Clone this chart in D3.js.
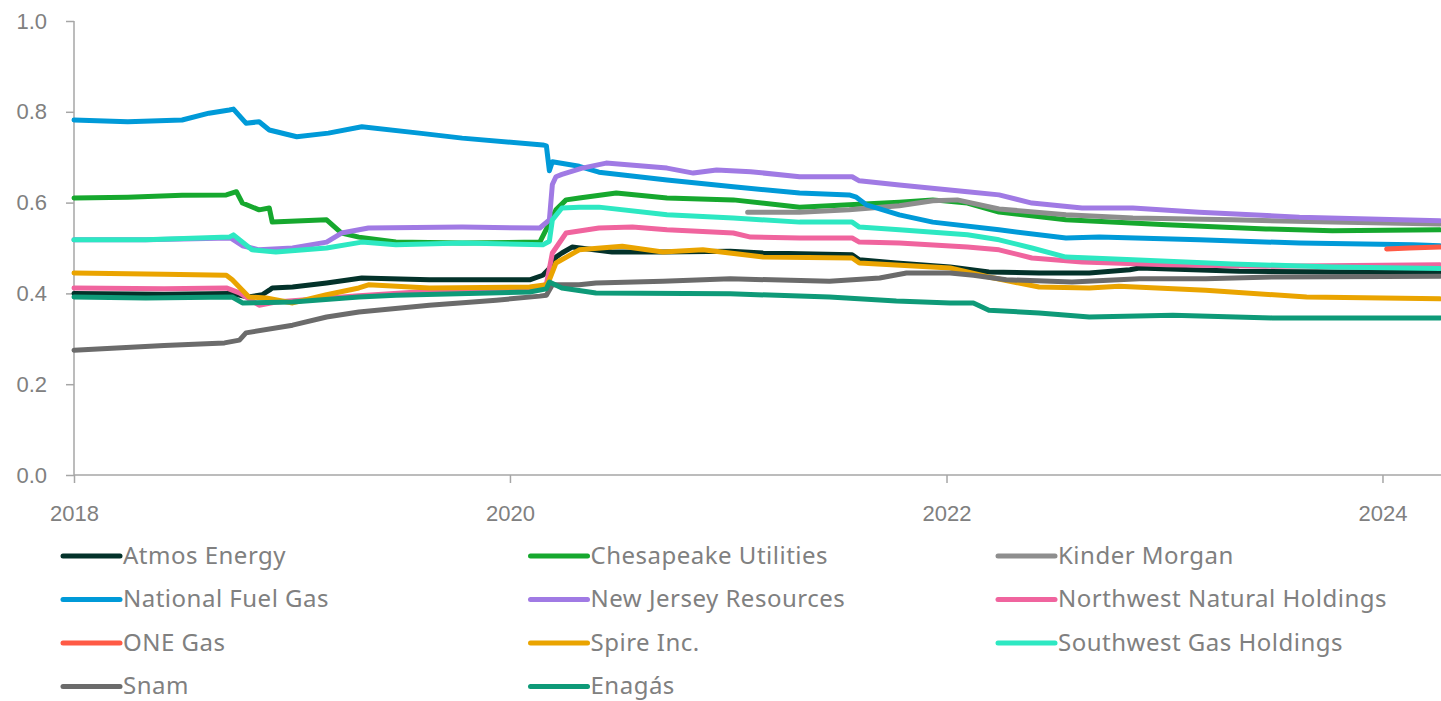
<!DOCTYPE html>
<html>
<head>
<meta charset="utf-8">
<script src="https://cdn.jsdelivr.net/npm/d3@7"></script>
<style>
  body { margin: 0; background: #fff; }
  svg { display: block; font-family: "Noto Sans", sans-serif; }
  .axis text { fill: #808080; font-size: 22px; }
  .axis path, .axis line { stroke: #a6a6a6; stroke-width: 1.5; }
</style>
</head>
<body>
<div id="chart"></div>
<script>
/* series values: [date, value] */
const atmosEnergy = [["2018-01-01",0.400],["2018-06-01",0.398],["2018-09-20",0.400],["2018-10-20",0.392],["2018-11-12",0.397],["2018-11-24",0.407],["2018-11-29",0.412],["2019-01-02",0.414],["2019-02-28",0.423],["2019-04-28",0.434],["2019-08-19",0.430],["2020-02-03",0.430],["2020-02-25",0.440],["2020-03-07",0.455],["2020-03-18",0.480],["2020-03-28",0.489],["2020-04-14",0.502],["2020-06-20",0.491],["2020-09-13",0.491],["2021-01-04",0.493],["2021-02-28",0.489],["2021-07-27",0.485],["2021-08-08",0.474],["2021-10-09",0.467],["2022-01-07",0.458],["2022-03-13",0.447],["2022-06-05",0.445],["2022-08-28",0.445],["2022-11-04",0.452],["2022-11-20",0.456],["2023-05-06",0.449],["2023-10-21",0.447],["2024-04-06",0.447]]
const chesapeakeUtilities = [["2018-01-01",0.610],["2018-04-01",0.612],["2018-07-01",0.616],["2018-09-13",0.617],["2018-09-30",0.624],["2018-10-10",0.599],["2018-11-07",0.584],["2018-11-24",0.588],["2018-11-29",0.557],["2019-02-28",0.562],["2019-03-25",0.533],["2019-04-23",0.524],["2019-06-24",0.513],["2019-10-13",0.511],["2020-02-20",0.513],["2020-03-07",0.555],["2020-03-18",0.584],["2020-04-04",0.606],["2020-04-26",0.610],["2020-06-27",0.621],["2020-09-20",0.610],["2021-01-09",0.606],["2021-04-30",0.590],["2021-07-22",0.595],["2021-10-14",0.601],["2021-12-09",0.606],["2022-02-05",0.599],["2022-03-30",0.579],["2022-07-20",0.562],["2023-01-05",0.551],["2023-06-20",0.542],["2023-10-09",0.538],["2024-04-06",0.540]]
const kinderMorgan = [["2021-02-02",0.579],["2021-04-30",0.579],["2021-07-22",0.584],["2021-10-14",0.593],["2021-12-09",0.604],["2022-01-19",0.606],["2022-03-30",0.586],["2022-07-20",0.573],["2022-11-09",0.566],["2023-04-24",0.562],["2023-10-09",0.557],["2024-04-06",0.553]]
const nationalFuelGas = [["2018-01-01",0.782],["2018-04-01",0.778],["2018-07-01",0.782],["2018-08-15",0.797],["2018-09-18",0.804],["2018-09-25",0.806],["2018-10-16",0.775],["2018-11-07",0.778],["2018-11-24",0.760],["2019-01-09",0.745],["2019-03-03",0.753],["2019-04-28",0.767],["2019-08-02",0.753],["2019-10-13",0.742],["2020-02-25",0.727],["2020-03-02",0.725],["2020-03-07",0.670],["2020-03-12",0.690],["2020-04-26",0.680],["2020-05-29",0.667],["2020-09-20",0.650],["2021-01-09",0.635],["2021-04-30",0.621],["2021-07-22",0.617],["2021-08-03",0.612],["2021-08-20",0.595],["2021-10-14",0.573],["2021-12-09",0.557],["2022-03-30",0.540],["2022-07-20",0.522],["2022-09-14",0.524],["2023-02-28",0.518],["2023-08-15",0.511],["2024-02-21",0.507],["2024-04-06",0.505]]
const newJerseyResources = [["2018-01-01",0.518],["2018-05-01",0.518],["2018-09-20",0.522],["2018-10-10",0.505],["2018-11-07",0.496],["2019-01-02",0.500],["2019-02-28",0.513],["2019-03-25",0.533],["2019-05-09",0.544],["2019-10-13",0.546],["2020-02-20",0.544],["2020-03-07",0.562],["2020-03-12",0.640],["2020-03-18",0.657],["2020-03-28",0.662],["2020-05-01",0.676],["2020-06-10",0.687],["2020-09-20",0.676],["2020-11-03",0.665],["2020-12-12",0.672],["2021-02-07",0.668],["2021-04-30",0.657],["2021-07-27",0.657],["2021-08-08",0.648],["2021-10-14",0.639],["2022-02-05",0.624],["2022-03-30",0.617],["2022-05-24",0.599],["2022-08-16",0.588],["2022-11-09",0.588],["2023-02-28",0.579],["2023-08-15",0.568],["2024-04-06",0.560]]
const northwestNatural = [["2018-01-01",0.412],["2018-06-01",0.410],["2018-09-13",0.412],["2018-10-05",0.401],["2018-11-07",0.374],["2018-12-05",0.381],["2019-04-23",0.395],["2019-08-19",0.405],["2020-02-03",0.408],["2020-03-02",0.420],["2020-03-12",0.489],["2020-04-04",0.533],["2020-05-29",0.544],["2020-07-24",0.546],["2020-09-20",0.540],["2021-01-09",0.533],["2021-02-07",0.524],["2021-04-30",0.522],["2021-07-27",0.522],["2021-08-08",0.513],["2021-10-14",0.511],["2022-02-05",0.502],["2022-03-30",0.496],["2022-05-24",0.478],["2022-08-16",0.469],["2023-01-05",0.463],["2023-06-20",0.460],["2024-04-06",0.463]]
const oneGas = [["2024-01-08",0.498],["2024-02-15",0.500],["2024-04-06",0.502]]
const spireInc = [["2018-01-01",0.445],["2018-06-01",0.442],["2018-09-13",0.440],["2018-09-23",0.430],["2018-10-10",0.407],["2018-10-21",0.392],["2018-11-19",0.390],["2019-01-02",0.379],["2019-02-28",0.397],["2019-04-23",0.412],["2019-05-09",0.419],["2019-08-19",0.412],["2020-02-03",0.414],["2020-03-02",0.419],["2020-03-07",0.430],["2020-03-18",0.467],["2020-04-26",0.496],["2020-07-07",0.504],["2020-09-13",0.491],["2020-11-19",0.496],["2021-02-28",0.480],["2021-07-27",0.478],["2021-08-08",0.467],["2022-01-07",0.456],["2022-03-13",0.436],["2022-06-05",0.414],["2022-08-28",0.412],["2022-10-17",0.416],["2023-03-11",0.407],["2023-08-27",0.392],["2024-04-06",0.388]]
const southwestGas = [["2018-01-01",0.518],["2018-05-01",0.518],["2018-09-18",0.524],["2018-09-25",0.529],["2018-10-26",0.496],["2018-12-05",0.491],["2019-02-28",0.500],["2019-04-28",0.513],["2019-06-24",0.507],["2019-10-13",0.511],["2020-02-25",0.507],["2020-03-07",0.515],["2020-03-12",0.562],["2020-03-28",0.588],["2020-04-26",0.590],["2020-05-29",0.590],["2020-09-20",0.573],["2021-01-09",0.566],["2021-04-30",0.557],["2021-07-27",0.557],["2021-08-08",0.546],["2021-10-14",0.540],["2022-02-05",0.529],["2022-03-30",0.518],["2022-05-24",0.500],["2022-07-20",0.480],["2022-11-09",0.474],["2023-04-24",0.465],["2023-10-09",0.458],["2024-04-06",0.455]]
const snam = [["2018-01-01",0.275],["2018-06-01",0.285],["2018-09-10",0.291],["2018-10-05",0.297],["2018-10-16",0.313],["2019-01-02",0.330],["2019-02-28",0.348],["2019-04-23",0.359],["2019-08-19",0.374],["2019-12-09",0.385],["2020-02-20",0.394],["2020-03-02",0.396],["2020-03-12",0.419],["2020-04-26",0.419],["2020-05-24",0.423],["2020-09-13",0.427],["2021-01-04",0.432],["2021-06-19",0.427],["2021-09-11",0.434],["2021-10-26",0.445],["2022-01-07",0.445],["2022-02-15",0.440],["2022-04-11",0.430],["2022-07-30",0.425],["2022-11-20",0.432],["2023-03-11",0.432],["2023-06-30",0.436],["2024-04-06",0.438]]
const enagas = [["2018-01-01",0.392],["2018-05-01",0.390],["2018-09-23",0.392],["2018-10-10",0.379],["2019-01-02",0.381],["2019-04-23",0.392],["2019-06-24",0.396],["2020-02-03",0.403],["2020-03-02",0.410],["2020-03-07",0.425],["2020-03-28",0.412],["2020-05-24",0.401],["2021-01-04",0.399],["2021-06-19",0.392],["2021-10-09",0.383],["2022-01-07",0.379],["2022-02-15",0.379],["2022-03-13",0.363],["2022-06-05",0.357],["2022-08-28",0.348],["2023-01-15",0.352],["2023-06-30",0.346],["2024-04-06",0.346]]

const seriesNames = ["Atmos Energy", "Chesapeake Utilities", "Kinder Morgan", "National Fuel Gas", "New Jersey Resources", "Northwest Natural Holdings", "ONE Gas", "Spire Inc.", "Southwest Gas Holdings", "Snam", "Enagás"]
const seriesValues = [atmosEnergy, chesapeakeUtilities, kinderMorgan, nationalFuelGas, newJerseyResources, northwestNatural, oneGas, spireInc, southwestGas, snam, enagas]
const colors = ["#03322a", "#16a82e", "#8e8e8e", "#009ad8", "#a07ae4", "#f0649e", "#ff5a45", "#eaa400", "#2de8c2", "#6b6b6b", "#0e9a78"]
const yTicks = [0, 0.2, 0.4, 0.6, 0.8, 1.0]
const xTicks = ["2018-01-01", "2020-01-01", "2022-01-01", "2024-01-01"]
const xDomain = ["2018-01-01", "2024-04-08"]

const width = 1441, height = 701
const margin = {top: 21, right: 0, bottom: 226, left: 74}
const parse = d3.utcParse("%Y-%m-%d")

const svg = d3.select("#chart").append("svg")
    .attr("width", width)
    .attr("height", height)

const x = d3.scaleUtc()
    .domain(xDomain.map(parse))
    .range([margin.left, width - margin.right])

const y = d3.scaleLinear()
    .domain([0, 1])
    .range([height - margin.bottom, margin.top])

// axes (ticks and labels from d3, plain domain lines drawn below)
svg.append("g")
    .attr("class", "axis")
    .attr("transform", "translate(" + margin.left + ",0)")
    .call(d3.axisLeft(y).tickValues(yTicks).tickFormat(d3.format(".1f")).tickSize(8).tickPadding(19))

svg.append("g")
    .attr("class", "axis")
    .attr("transform", "translate(0," + (height - margin.bottom) + ")")
    .call(d3.axisBottom(x).tickValues(xTicks.map(parse)).tickFormat(d3.utcFormat("%Y")).tickSize(8).tickPadding(22))

svg.selectAll(".axis .domain").remove()
svg.append("line")
    .attr("x1", margin.left).attr("x2", margin.left)
    .attr("y1", y(1)).attr("y2", y(0))
    .attr("stroke", "#a6a6a6").attr("stroke-width", 1.5)
svg.append("line")
    .attr("x1", margin.left).attr("x2", width)
    .attr("y1", y(0)).attr("y2", y(0))
    .attr("stroke", "#a6a6a6").attr("stroke-width", 1.5)

// lines
const line = d3.line()
    .x(function (d) { return x(parse(d[0])) })
    .y(function (d) { return y(d[1]) })

svg.append("g")
    .selectAll("path")
    .data(seriesValues)
    .enter().append("path")
    .attr("d", line)
    .attr("fill", "none")
    .attr("stroke", function (d, i) { return colors[i] })
    .attr("stroke-width", 5)
    .attr("stroke-linejoin", "round")
    .attr("stroke-linecap", "round")

// legend, three columns
const legend = svg.append("g")
    .selectAll(".legends")
    .data(seriesNames)
    .enter().append("g")
    .attr("class", "legends")
    .attr("transform", function (d, i) {
        const xOff = 63 + (i % 3) * 467.5
        const yOff = 556 + Math.floor(i / 3) * 43.5
        return "translate(" + xOff + "," + yOff + ")"
    })

legend.append("line")
    .attr("x1", 0)
    .attr("x2", 57)
    .attr("stroke", function (d, i) { return colors[i] })
    .attr("stroke-width", 5)
    .attr("stroke-linecap", "round")

legend.append("text")
    .attr("x", 60)
    .attr("dy", "0.33em")
    .style("fill", "#808080")
    .style("font-size", "24px")
    .style("letter-spacing", "0.5px")
    .text(function (d) { return d })
</script>
</body>
</html>
